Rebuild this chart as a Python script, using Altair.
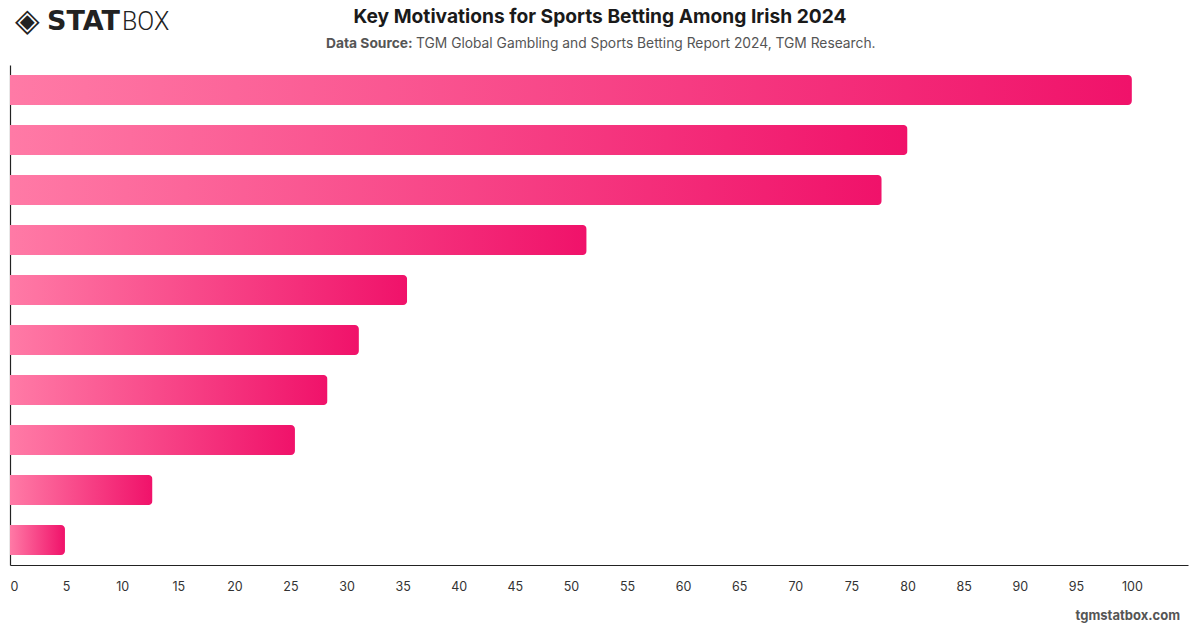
import altair as alt
import pandas as pd

# Motivation categories (axis labels are hidden in the chart) and shares
reasons = [
    "Reason 1", "Reason 2", "Reason 3", "Reason 4", "Reason 5",
    "Reason 6", "Reason 7", "Reason 8", "Reason 9", "Reason 10",
]
values = [100, 80, 77.7, 51.4, 35.4, 31.1, 28.3, 25.4, 12.7, 4.9]
tick_values = list(range(0, 101, 5))

df = pd.DataFrame({"reason": reasons, "value": values})

FONT = "Inter"
W, H = 1178, 500

pink_gradient = alt.Gradient(
    gradient="linear",
    stops=[
        alt.GradientStop(color="#FF7AA6", offset=0),
        alt.GradientStop(color="#F0126A", offset=1),
    ],
    x1=0, x2=1, y1=0, y2=0,
)

bars = alt.Chart(df).mark_bar(
    color=pink_gradient, cornerRadiusEnd=4
).encode(
    x=alt.X(
        "value:Q",
        scale=alt.Scale(domain=[0, 105], nice=False),
        axis=alt.Axis(
            values=tick_values, ticks=False, grid=False, title=None,
            labelFontSize=12.5, labelColor="#333", labelPadding=15,
            labelFont=FONT, domainColor="#222", domainWidth=1.2,
        ),
    ),
    y=alt.Y(
        "reason:N", sort=reasons,
        scale=alt.Scale(paddingInner=0.4, paddingOuter=0.2),
        axis=alt.Axis(labels=False, ticks=False, title=None, grid=False,
                      domainColor="#222", domainWidth=1.2),
    ),
)

def label(text, x, y, size, weight="normal", color="#222", align="left", font=FONT):
    return alt.Chart(pd.DataFrame({"t": [text]})).mark_text(
        align=align, baseline="middle", fontSize=size, fontWeight=weight,
        color=color, font=font,
    ).encode(text="t:N", x=alt.value(x), y=alt.value(y))

title = label("Key Motivations for Sports Betting Among Irish 2024", 590, -48, 19.2,
              "bold", "#1a1a1a", "center")
sub_bold = label("Data Source:", 316, -21, 13.8, "bold", "#555")
sub_rest = label("TGM Global Gambling and Sports Betting Report 2024, TGM Research.",
                 406, -21, 13.8, "normal", "#555")
logo_icon = label("◈", 5, -44, 32, "bold", "#222", font="DejaVu Sans")
logo_stat = label("STAT", 37, -43, 27, "bold", "#222", font="DejaVu Sans")
logo_box = label("BOX", 112, -43, 25, 300, "#222", font="Roboto")
footer = label("tgmstatbox.com", 1170, 551, 13, "bold", "#555", "right")

chart = alt.layer(
    bars, title, sub_bold, sub_rest, logo_icon, logo_stat, logo_box, footer
).properties(
    width=W, height=H,
    padding={"left": 10, "top": 65, "right": 12, "bottom": 63},
    autosize=alt.AutoSizeParams(type="none"),
    background="white",
).configure_view(stroke=None)

chart.save("out.html", embed_options={"renderer": "svg", "actions": False})
